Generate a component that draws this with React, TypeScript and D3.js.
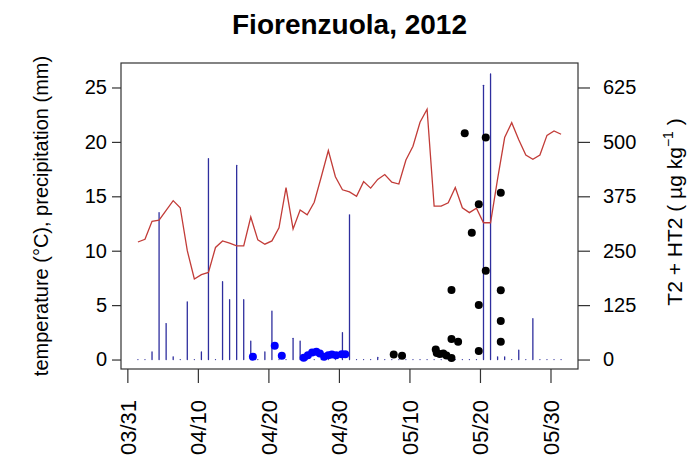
import React, { useEffect, useRef } from 'react'
import * as d3 from 'd3'

// daily series, 04/01 .. 05/31 (one value per day)
const firstDay = new Date(2012, 3, 1, 12)
const temperature = [
  10.8, 11.05, 12.7, 12.8, 13.7, 14.6, 13.95, 10.0, 7.4, 7.8,
  8.0, 10.3, 10.9, 10.7, 10.45, 10.45, 13.1, 11.0, 10.6, 10.9,
  12.1, 15.8, 12.0, 13.75, 13.3, 14.45, 16.8, 19.2, 16.8, 15.6,
  15.4, 15.0, 16.35, 15.75, 16.55, 17.0, 16.3, 16.13, 18.34, 19.6,
  21.8, 23.0, 14.1, 14.1, 14.4, 15.8, 13.95, 13.5, 13.9, 12.57,
  12.57, 16.6, 20.4, 21.77, 20.2, 18.8, 18.4, 18.8, 20.6, 21.0,
  20.7,
]
const precipitation = [
  0, 0, 0.7, 13.5, 3.3, 0.25, 0, 5.3, 0, 0.7,
  18.45, 0, 7.15, 5.5, 17.85, 5.5, 1.7, 0, 0.7, 4.45,
  0, 0, 1.95, 1.7, 0, 0, 0, 0, 0, 2.46,
  13.3, 0, 0, 0, 0.2, 0, 0, 0, 0, 0,
  0, 0, 0, 0, 0, 0, 0, 0, 0, 25.2,
  26.25, 0.25, 0.25, 0, 0.87, 0, 3.75, 0, 0, 0,
  0,
]

// T2 + HT2 samples, sampling time in days after 03/31
const blueDays = [17.8, 20.9, 21.9, 25.0, 25.6, 26.2, 26.8, 27.3, 27.9, 28.5, 29.0, 29.6, 30.4, 30.9]
const blueToxin = [6.4, 31.5, 8.7, 4, 10, 16, 18, 14, 6.5, 10, 11.5, 10, 12, 12]
const blackDays = [
  37.77, 38.95, 43.73, 43.87, 44.3, 44.8, 45.25, 45.96, 45.96, 45.96, 46.9,
  47.84, 48.84, 49.83, 49.83, 49.83, 50.82, 50.82, 52.95, 52.95, 52.95, 52.95,
]
const blackToxin = [
  11.5, 8.7, 23, 15, 12.6, 13.8, 9.2, 3.4, 160, 47, 41,
  520, 291, 357, 125, 19.5, 510, 204, 383, 159, 88.5, 41,
]

const leftTicks = [0, 5, 10, 15, 20, 25]
const rightTicks = [0, 125, 250, 375, 500, 625]
const dateTicks = ['03/31', '04/10', '04/20', '04/30', '05/10', '05/20', '05/30']

const FONT = 'Liberation Sans, Arial, sans-serif'

export default function App() {
  const ref = useRef<SVGSVGElement>(null)

  useEffect(() => {
    const svg = d3.select(ref.current)
    svg.selectAll('*').remove()

    const left = 121, right = 578, top = 63, bottom = 369
    const base = new Date(2012, 2, 31).getTime()
    const atDay = (d: number) => new Date(base + d * 864e5)
    const days = temperature.map((_, i) => d3.timeDay.offset(firstDay, i))

    // R style 4% padding around data range
    const ext = d3.extent(days) as [Date, Date]
    const pad = (ext[1].getTime() - ext[0].getTime()) * 0.04
    const x = d3.scaleTime()
      .domain([new Date(ext[0].getTime() - pad), new Date(ext[1].getTime() + pad)])
      .range([left, right])
    const y = d3.scaleLinear().domain([-0.87, 27.25]).range([bottom, top])
    const y2 = d3.scaleLinear().domain([-0.87 * 25, 27.25 * 25]).range([bottom, top])

    const parse = d3.timeParse('%Y/%m/%d')

    // precipitation, type "h"
    svg.append('g')
      .attr('stroke', '#2e2e9e')
      .attr('stroke-width', 1.3)
      .attr('stroke-linecap', 'round')
      .selectAll('line')
      .data(precipitation)
      .join('line')
        .attr('x1', (d, i) => x(days[i]))
        .attr('x2', (d, i) => x(days[i]))
        .attr('y1', y(0))
        .attr('y2', d => y(d))

    // temperature
    const line = d3.line<number>()
      .x((d, i) => x(days[i]))
      .y(d => y(d))
    svg.append('path')
      .datum(temperature)
      .attr('fill', 'none')
      .attr('stroke', '#c23c38')
      .attr('stroke-width', 1.3)
      .attr('d', line)

    svg.append('g')
      .attr('fill', '#0000ff')
      .selectAll('circle')
      .data(blueToxin)
      .join('circle')
        .attr('cx', (d, i) => x(atDay(blueDays[i])))
        .attr('cy', d => y2(d))
        .attr('r', 4)

    svg.append('g')
      .attr('fill', '#000')
      .selectAll('circle')
      .data(blackToxin)
      .join('circle')
        .attr('cx', (d, i) => x(atDay(blackDays[i])))
        .attr('cy', d => y2(d))
        .attr('r', 4)

    svg.append('rect')
      .attr('x', left).attr('y', top)
      .attr('width', right - left).attr('height', bottom - top)
      .attr('fill', 'none').attr('stroke', '#333').attr('stroke-width', 1.2)

    const styleAxis = (g: any) => {
      g.select('.domain').remove()
      g.selectAll('.tick line').attr('stroke', '#333').attr('stroke-width', 1.2)
      g.selectAll('.tick text').attr('font-family', FONT).attr('font-size', 20).attr('fill', '#000')
    }

    svg.append('g')
      .attr('transform', `translate(${left},0)`)
      .call(d3.axisLeft(y).tickValues(leftTicks).tickSize(9).tickPadding(5))
      .call(styleAxis)

    svg.append('g')
      .attr('transform', `translate(${right},0)`)
      .call(d3.axisRight(y2).tickValues(rightTicks).tickSize(12).tickPadding(13))
      .call(styleAxis)

    const xAxis = svg.append('g')
      .attr('transform', `translate(0,${bottom})`)
      .call(d3.axisBottom(x)
        .tickValues(dateTicks.map(s => parse('2012/' + s) as Date))
        .tickFormat(d3.timeFormat('%m/%d') as any)
        .tickSize(14))
      .call(styleAxis)
    xAxis.selectAll('.tick text')
      .attr('transform', 'translate(0,31) rotate(-90)')
      .attr('text-anchor', 'end')
      .attr('x', 0).attr('y', 0)
      .attr('dy', '0.35em')
      .attr('font-size', 22)

    svg.append('text')
      .attr('x', (left + right) / 2).attr('y', 34)
      .attr('text-anchor', 'middle')
      .attr('font-family', FONT).attr('font-weight', 'bold').attr('font-size', 28)
      .text('Fiorenzuola, 2012')

    svg.append('text')
      .attr('transform', `translate(48,${(top + bottom) / 2}) rotate(-90)`)
      .attr('text-anchor', 'middle')
      .attr('font-family', FONT).attr('font-size', 20)
      .text('temperature (°C), precipitation (mm)')

    const rt = svg.append('text')
      .attr('transform', `translate(682,${(top + bottom) / 2 - 4}) rotate(-90)`)
      .attr('text-anchor', 'middle')
      .attr('font-family', FONT).attr('font-size', 21)
    rt.append('tspan').text('T2 + HT2 ( µg kg')
    rt.append('tspan').attr('font-size', 14).attr('dy', -9).text('−1')
    rt.append('tspan').attr('dy', 9).text(' )')
  }, [])

  return (
    <svg ref={ref} width={696} height={470}
      style={{ position: 'absolute', left: 0, top: 0, background: '#fff' }} />
  )
}
